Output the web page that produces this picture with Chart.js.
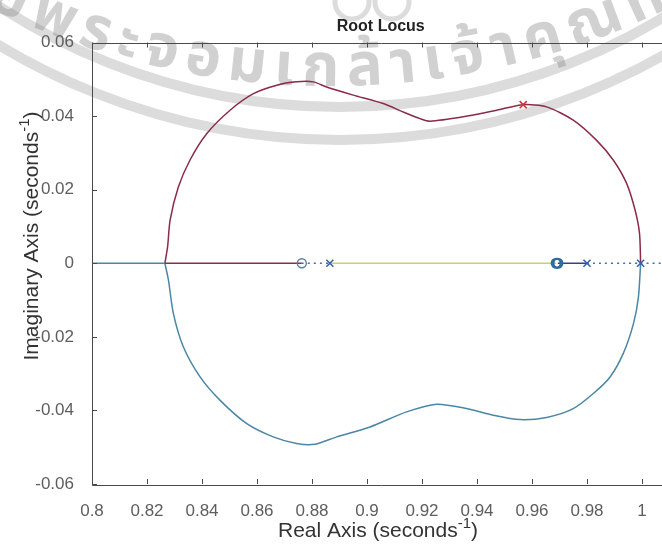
<!DOCTYPE html>
<html>
<head>
<meta charset="utf-8">
<title>Root Locus</title>
<script src="https://cdn.jsdelivr.net/npm/chart.js@4.4.1/dist/chart.umd.min.js"></script>
<style>
  html, body { margin: 0; padding: 0; background: #fff; overflow: hidden; }
  #wrap { position: relative; width: 662px; height: 544px; overflow: hidden; }
  #rl { position: absolute; left: 0; top: 0; }
</style>
</head>
<body>
<div id="wrap"><canvas id="rl" width="690" height="544"></canvas></div>
<script>
// ---- axis ticks ----
const xTickValues = [0.8, 0.82, 0.84, 0.86, 0.88, 0.9, 0.92, 0.94, 0.96, 0.98, 1.0];
const xTickLabels = ['0.8', '0.82', '0.84', '0.86', '0.88', '0.9', '0.92', '0.94', '0.96', '0.98', '1'];
const yTickValues = [-0.06, -0.04, -0.02, 0, 0.02, 0.04, 0.06];
const yTickLabels = ['-0.06', '-0.04', '-0.02', '0', '0.02', '0.04', '0.06'];

// ---- complex branches (real part, imaginary part) ----
// upper branch: breakaway point -> complex pole -> pole at 1
const upperRe = [0.8265, 0.8275, 0.8284, 0.8314, 0.8356, 0.8417, 0.8502, 0.8587, 0.8672, 0.8744,
                 0.8805, 0.8853, 0.8950, 0.9059, 0.9132, 0.9193, 0.9229, 0.9350, 0.9472, 0.9568,
                 0.9653, 0.9750, 0.9835, 0.9896, 0.9944, 0.9975, 0.9991, 0.9995];
const upperIm = [0.0000, 0.0045, 0.0117, 0.0207, 0.0280, 0.0352, 0.0416, 0.0461, 0.0484, 0.0493,
                 0.0493, 0.0479, 0.0457, 0.0434, 0.0411, 0.0393, 0.0386, 0.0398, 0.0416, 0.0431,
                 0.0425, 0.0389, 0.0334, 0.0280, 0.0217, 0.0144, 0.0081, 0.0000];
// lower branch: breakaway point -> pole at 1
const lowerRe = [0.8265, 0.8278, 0.8296, 0.8332, 0.8393, 0.8465, 0.8563, 0.8659, 0.8744, 0.8811,
                 0.8890, 0.9011, 0.9144, 0.9253, 0.9362, 0.9459, 0.9556, 0.9653, 0.9750, 0.9823,
                 0.9884, 0.9932, 0.9969, 0.9987, 0.9995];
const lowerIm = [0.0000, -0.0046, -0.0137, -0.0227, -0.0309, -0.0372, -0.0436, -0.0472, -0.0490, -0.0492,
                 -0.0472, -0.0445, -0.0404, -0.0383, -0.0395, -0.0413, -0.0425, -0.0419, -0.0395, -0.0354,
                 -0.0309, -0.0245, -0.0164, -0.0092, 0.0000];

// ---- real-axis segments [from, to] ----
const tailLeft  = [0.8, 0.8265];
const breakIn   = [0.8265, 0.8763];
const midSeg    = [0.8865, 0.9688];
const rightSeg  = [0.9694, 0.9800];
const dotSegA   = [0.8763, 0.8865];
const dotSegB   = [0.9800, 0.9995];
const dotSegC   = [0.9995, 1.0100];

// ---- poles and zeros ----
const poleRe = [0.8865, 0.9800, 0.9995];
const poleIm = [0, 0, 0];
const cpoleRe = [0.9568];
const cpoleIm = [0.0431];
const zeroRe = [0.8763];
const zeroIm = [0];
const dzeroRe = [0.9688, 0.9694];
const dzeroIm = [0, 0];

const FONT = '"Liberation Sans", Arial, Helvetica, sans-serif';
const COL = {
  upper: '#8a2c48',
  lower: '#4a86a6',
  mid: '#cdd266',
  right: '#3b3d8c',
  dot: '#3f6fae',
  pole: '#3a62a6',
  cpole: '#d0343f',
  zero: '#5880a6',
  dzero: '#2f6a9c',
  axis: '#4a4a4a',
  tick: '#5e5e5e',
  label: '#333333',
  title: '#222222'
};

const pts = (re, im) => re.map((x, i) => ({ x: x, y: im[i] }));
const seg = (s) => [{ x: s[0], y: 0 }, { x: s[1], y: 0 }];

function lineSet(data, color, extra) {
  return Object.assign({
    data: data, showLine: true, borderColor: color, borderWidth: 1.5,
    pointRadius: 0, pointHoverRadius: 0, tension: 0.25, order: 2, fill: false
  }, extra || {});
}
function markSet(data, style, color, radius, width) {
  return {
    data: data, showLine: false, pointStyle: style, pointRadius: radius,
    pointBorderColor: color, pointBackgroundColor: 'rgba(0,0,0,0)',
    pointBorderWidth: width, order: 0
  };
}

// faint seal stamped behind the plot
const seal = {
  id: 'seal',
  beforeDraw(chart) {
    const ctx = chart.ctx;
    ctx.save();
    ctx.strokeStyle = 'rgba(150,150,150,0.33)';
    ctx.lineWidth = 10;
    [627, 660].forEach(r => { ctx.beginPath(); ctx.arc(340, -520, r, 0, Math.PI); ctx.stroke(); });
    ctx.lineWidth = 5;
    [[352, 2], [392, 2]].forEach(c => { ctx.beginPath(); ctx.arc(c[0], c[1], 17, 0, Math.PI * 2); ctx.stroke(); });

    const text = 'สถาบันเทคโนโลยีพระจอมเกล้าเจ้าคุณทหารลาดกระบัง';
    let clusters;
    if (typeof Intl !== 'undefined' && Intl.Segmenter) {
      clusters = Array.from(new Intl.Segmenter('th', { granularity: 'grapheme' }).segment(text), s => s.segment);
    } else {
      clusters = Array.from(text);
    }
    ctx.font = 'bold 60px "Noto Sans Thai", Loma, Garuda, "Noto Sans", "DejaVu Sans", sans-serif';
    ctx.fillStyle = 'rgba(128,128,128,0.36)';
    ctx.textAlign = 'center';
    ctx.textBaseline = 'alphabetic';
    const cx = 330, cy = -690, R = 776;
    const widths = clusters.map(c => ctx.measureText(c).width);
    const start = clusters.indexOf('พ');
    const end = start + 14;
    let inner = 0;
    for (let i = start; i < end; i++) inner += (widths[i] + widths[i + 1]) / 2;
    const th0 = Math.asin((48 - cx) / R);
    const th1 = Math.asin((600 - cx) / R);
    const track = ((th1 - th0) * R - inner) / (end - start);
    const theta = new Array(clusters.length);
    theta[start] = th0;
    for (let i = start + 1; i < clusters.length; i++)
      theta[i] = theta[i - 1] + ((widths[i - 1] + widths[i]) / 2 + track) / R;
    for (let i = start - 1; i >= 0; i--)
      theta[i] = theta[i + 1] - ((widths[i + 1] + widths[i]) / 2 + track) / R;
    clusters.forEach((c, i) => {
      const t = theta[i];
      ctx.save();
      ctx.translate(cx + R * Math.sin(t), cy + R * Math.cos(t));
      ctx.rotate(-t);
      ctx.fillText(c, 0, 0);
      ctx.restore();
    });
    ctx.restore();
  }
};

// boxed axes with inward tick marks and superscripted axis labels
const frame = {
  id: 'frame',
  afterDraw(chart) {
    const ctx = chart.ctx;
    const a = chart.chartArea;
    const xs = chart.scales.x, ys = chart.scales.y;
    ctx.save();
    ctx.strokeStyle = COL.axis;
    ctx.lineWidth = 1;
    ctx.beginPath();
    ctx.rect(Math.round(a.left) + 0.5, Math.round(a.top) + 0.5,
             Math.round(a.right - a.left), Math.round(a.bottom - a.top));
    ctx.stroke();
    const L = 5;
    ctx.beginPath();
    xTickValues.forEach(v => {
      const px = Math.round(xs.getPixelForValue(v)) + 0.5;
      ctx.moveTo(px, a.bottom); ctx.lineTo(px, a.bottom - L);
      ctx.moveTo(px, a.top); ctx.lineTo(px, a.top + L);
    });
    yTickValues.forEach(v => {
      const py = Math.round(ys.getPixelForValue(v)) + 0.5;
      ctx.moveTo(a.left, py); ctx.lineTo(a.left + L, py);
      ctx.moveTo(a.right, py); ctx.lineTo(a.right - L, py);
    });
    ctx.stroke();

    ctx.fillStyle = COL.label;
    const size = 21;
    drawSup(ctx, 'Real Axis (seconds', '-1', ')', 378, 537, size);
    ctx.save();
    ctx.translate(38, 236);
    ctx.rotate(-Math.PI / 2);
    drawSup(ctx, 'Imaginary Axis (seconds', '-1', ')', 0, 0, size);
    ctx.restore();
    ctx.restore();
  }
};

function drawSup(ctx, base, sup, tail, cxp, baseline, size) {
  const big = size + 'px ' + FONT;
  const small = Math.round(size * 0.7) + 'px ' + FONT;
  ctx.textAlign = 'left';
  ctx.textBaseline = 'alphabetic';
  ctx.font = big;
  const wb = ctx.measureText(base).width;
  const wt = ctx.measureText(tail).width;
  ctx.font = small;
  const ws = ctx.measureText(sup).width;
  let x = cxp - (wb + ws + wt) / 2;
  ctx.font = big;
  ctx.fillText(base, x, baseline);
  x += wb;
  ctx.font = small;
  ctx.fillText(sup, x, baseline - size * 0.42);
  x += ws;
  ctx.font = big;
  ctx.fillText(tail, x, baseline);
}

new Chart(document.getElementById('rl'), {
  type: 'scatter',
  data: {
    datasets: [
      markSet(pts(cpoleRe, cpoleIm), 'crossRot', COL.cpole, 5, 1.6),
      markSet(pts(poleRe, poleIm), 'crossRot', COL.pole, 5, 1.6),
      markSet(pts(zeroRe, zeroIm), 'circle', COL.zero, 4.5, 1.4),
      markSet(pts(dzeroRe, dzeroIm), 'circle', COL.dzero, 4.5, 2.2),
      lineSet(seg(dotSegA), COL.dot, { borderDash: [2, 4], borderWidth: 1.3, order: 1 }),
      lineSet(seg(dotSegB), COL.dot, { borderDash: [2, 4], borderWidth: 1.3, order: 1 }),
      lineSet(seg(dotSegC), COL.dot, { borderDash: [2, 4], borderWidth: 1.3, order: 1 }),
      lineSet(seg(tailLeft), COL.lower),
      lineSet(seg(breakIn), COL.upper),
      lineSet(seg(midSeg), COL.mid),
      lineSet(seg(rightSeg), COL.right),
      lineSet(pts(upperRe, upperIm), COL.upper),
      lineSet(pts(lowerRe, lowerIm), COL.lower)
    ]
  },
  options: {
    responsive: false,
    animation: false,
    devicePixelRatio: 1,
    layout: { padding: { left: 0, right: 20.5, top: 0, bottom: 0 } },
    plugins: {
      legend: { display: false },
      tooltip: { enabled: false },
      title: {
        display: true,
        text: 'Root Locus',
        fullSize: false,
        color: COL.title,
        font: { family: FONT, size: 16, weight: 'bold', lineHeight: 1.2 },
        padding: { top: 17, bottom: 6.3 }
      }
    },
    scales: {
      x: {
        type: 'linear', min: 0.8, max: 1.01,
        afterBuildTicks: s => { s.ticks = xTickValues.map(v => ({ value: v })); },
        afterFit: s => { s.height = 60; },
        ticks: {
          callback: (v, i) => xTickLabels[i],
          color: COL.tick, padding: 9, maxRotation: 0, autoSkip: false,
          font: { family: FONT, size: 17 }
        },
        grid: { display: false },
        border: { display: false }
      },
      y: {
        type: 'linear', min: -0.06, max: 0.06,
        afterBuildTicks: s => { s.ticks = yTickValues.map(v => ({ value: v })); },
        afterFit: s => { s.width = 92; },
        ticks: {
          callback: (v, i) => yTickLabels[i],
          color: COL.tick, padding: 10, autoSkip: false,
          font: { family: FONT, size: 17 }
        },
        grid: { display: false },
        border: { display: false }
      }
    }
  },
  plugins: [seal, frame]
});
</script>
</body>
</html>
